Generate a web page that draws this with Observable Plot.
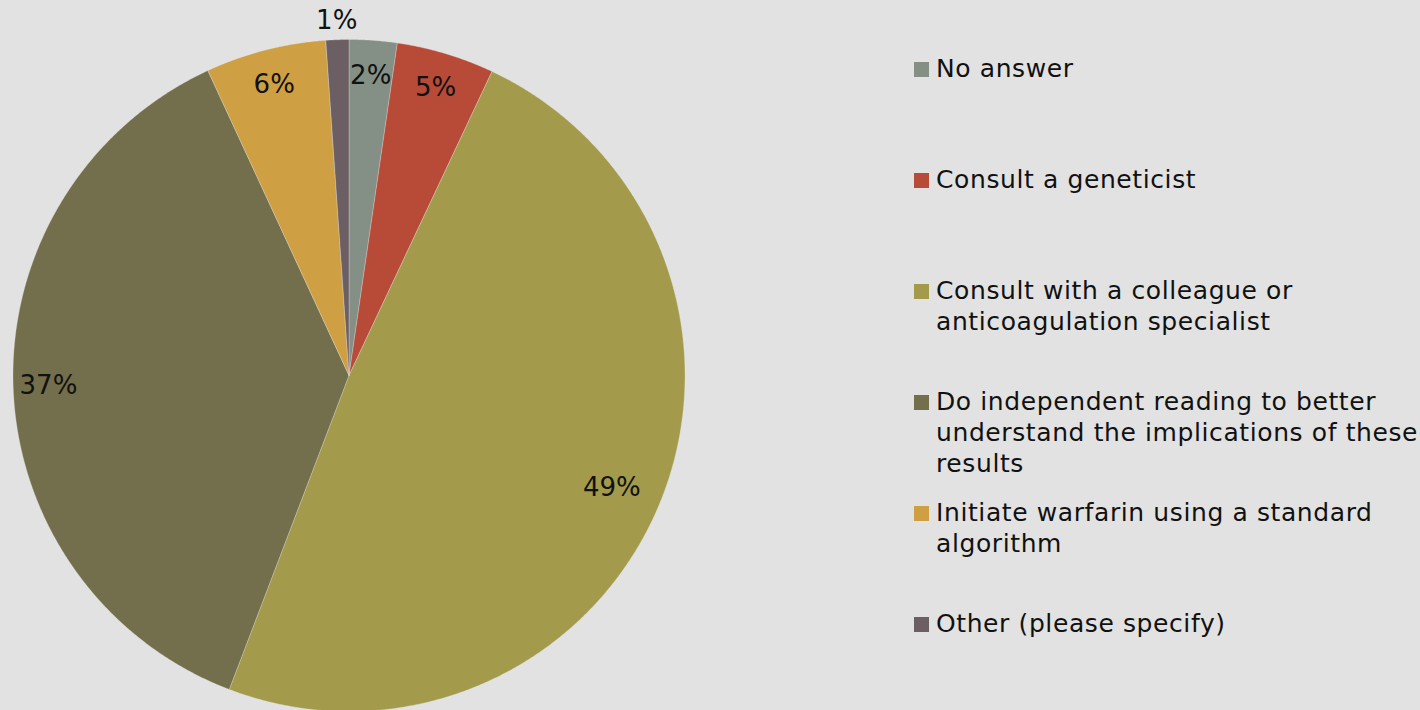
<!DOCTYPE html>
<html>
<head>
<meta charset="utf-8">
<script src="https://cdn.jsdelivr.net/npm/d3@7"></script>
<script src="https://cdn.jsdelivr.net/npm/@observablehq/plot@0.6"></script>
<style>
  html, body { margin: 0; padding: 0; background: #e2e2e2; }
  #wrap { position: relative; width: 1420px; height: 710px; overflow: hidden; background: #e2e2e2; }
  #chart { position: absolute; left: 0; top: 0; }
  #legend { position: absolute; left: 914px; top: 53px; font-family: "DejaVu Sans", sans-serif; font-size: 25px; letter-spacing: 0.6px; line-height: 31px; color: #111; }
  .item { position: relative; height: 111px; padding-left: 22px; white-space: pre-line; }
  .sw { position: absolute; left: 0; top: 9px; width: 15px; height: 15px; }
</style>
</head>
<body>
<div id="wrap"><div id="chart"></div><div id="legend"></div></div>
<script>
const categories = [
  "No answer",
  "Consult a geneticist",
  "Consult with a colleague or\nanticoagulation specialist",
  "Do independent reading to better\nunderstand the implications of these\nresults",
  "Initiate warfarin using a standard\nalgorithm",
  "Other (please specify)"
];
const values = [2.3, 4.7, 48.8, 37.3, 5.8, 1.1];
const labels = ["2%", "5%", "49%", "37%", "6%", "1%"];
const colors = ["#849085", "#b84b37", "#a39b4b", "#736e4b", "#cfa043", "#6c5f63"];

const cx = 348.5, cy = 375, r = 336;

const arcs = d3.pie().sort(null).value(d => d)(values);
const pts = [];
arcs.forEach((a, i) => {
  const cat = categories[i];
  pts.push({cat, x: 0, y: 0});
  const n = Math.max(8, Math.ceil((a.endAngle - a.startAngle) / 0.005));
  for (let k = 0; k <= n; k++) {
    const t = a.startAngle + (a.endAngle - a.startAngle) * k / n;
    pts.push({cat, x: Math.sin(t), y: Math.cos(t)});
  }
  pts.push({cat, x: 0, y: 0});
});
const labelData = arcs.map((a, i) => {
  const m = (a.startAngle + a.endAngle) / 2;
  const rr = values[i] < 2 ? 1.057 : (values[i] > 40 ? 0.85 : 0.895);
  return {x: rr * Math.sin(m), y: rr * Math.cos(m), text: labels[i]};
});

const chart = Plot.plot({
  width: 1420,
  height: 710,
  margin: 0,
  style: {background: "transparent", fontFamily: "DejaVu Sans, sans-serif"},
  x: {domain: [-1, 1], range: [cx - r, cx + r], axis: null},
  y: {domain: [-1, 1], range: [cy + r, cy - r], axis: null},
  color: {domain: categories, range: colors},
  marks: [
    Plot.line(pts, {x: "x", y: "y", z: "cat", fill: "cat", stroke: "#e6e6e6", strokeWidth: 0.6, strokeOpacity: 0.5, curve: "linear"}),
    Plot.text(labelData, {x: "x", y: "y", text: "text", fontSize: 26, fill: "#111", style: "letter-spacing:-1px"})
  ]
});
document.getElementById("chart").appendChild(chart);

const legend = document.getElementById("legend");
categories.forEach((c, i) => {
  const it = document.createElement("div");
  it.className = "item";
  const sw = document.createElement("div");
  sw.className = "sw";
  sw.style.background = colors[i];
  it.appendChild(sw);
  it.appendChild(document.createTextNode(c));
  legend.appendChild(it);
});
</script>
</body>
</html>
